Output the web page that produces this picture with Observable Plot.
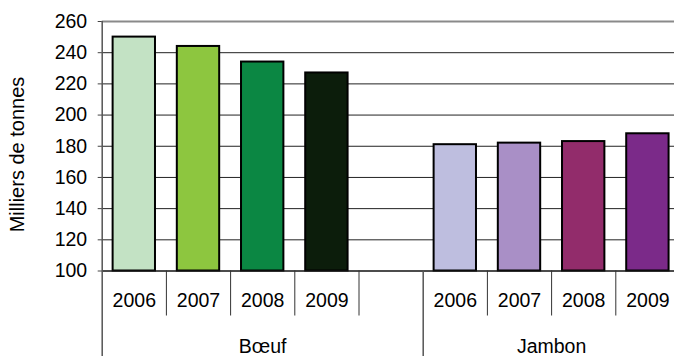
<!DOCTYPE html>
<html>
<head>
<meta charset="utf-8">
<script src="https://cdn.jsdelivr.net/npm/d3@7"></script>
<script src="https://cdn.jsdelivr.net/npm/@observablehq/plot@0.6"></script>
<style>
  html, body { margin: 0; padding: 0; background: #fff; overflow: hidden; }
  #chart svg { display: block; }
</style>
</head>
<body>
<div id="chart"></div>
<script>
// Production (milliers de tonnes) par produit et par année
const groups = ["Bœuf", "Jambon"];
const years = ["2006", "2007", "2008", "2009"];
const boeuf = [250, 244, 234, 227];
const jambon = [181, 182, 183, 188];
const yTicks = [100, 120, 140, 160, 180, 200, 220, 240, 260];
const yTitle = "Milliers de tonnes";

// Fill colours, one per bar (greens for beef, purples for ham)
const palette = [
  "#c3e2c4", "#8dc63f", "#0b8743", "#0c1d0b",
  "#bebedf", "#a98fc6", "#922c6b", "#7b2a89"
];

// Each group takes one slot per year plus an empty spacer slot
const series = [boeuf, jambon];
const slotsPerGroup = years.length + 1;
const rows = groups.flatMap((g, gi) =>
  series[gi].map((v, yi) => ({
    group: g,
    year: years[yi],
    value: v,
    key: g + " " + years[yi],
    slot: gi * slotsPerGroup + yi
  }))
);
const nSlots = (groups.length - 1) * slotsPerGroup + years.length;

// Category axis: short separators between years, long ones between groups
const groupStarts = groups.map((g, gi) => gi * slotsPerGroup).concat([nSlots]);
const shortBounds = d3.range(1, nSlots + 1).filter(b => !groupStarts.includes(b));
const yearAt = new Map(rows.map(d => [d.slot + 0.5, d.year]));
const groupCenters = groups.map((g, gi) => (groupStarts[gi] + groupStarts[gi + 1]) / 2);
const groupAt = new Map(groups.map((g, gi) => [groupCenters[gi], g]));

const font = "'Liberation Sans', Arial, Helvetica, sans-serif";
const W = 674, H = 356;
const mTop = 21, mBottom = 85.5, mLeft = 101.7;
const slotPx = 64.2;

const chart = Plot.plot({
  width: W,
  height: H,
  marginTop: mTop,
  marginBottom: mBottom,
  marginLeft: mLeft,
  marginRight: 0,
  style: { fontFamily: font, fontSize: "19.5px", color: "#000", background: "#fff" },
  x: { domain: [0, nSlots], range: [mLeft, mLeft + nSlots * slotPx] },
  y: { domain: [yTicks[0], yTicks[yTicks.length - 1]] },
  color: { domain: rows.map(d => d.key), range: palette },
  marks: [
    // horizontal gridlines
    Plot.ruleY(yTicks.slice(1, -1), { stroke: "#222", strokeWidth: 1 }),
    Plot.ruleY([yTicks[yTicks.length - 1]], { stroke: "#8a8a8a", strokeWidth: 2 }),
    // bars
    Plot.rect(rows, {
      x1: d => d.slot + 0.17,
      x2: d => d.slot + 0.83,
      y1: yTicks[0],
      y2: "value",
      fill: "key",
      stroke: "#000",
      strokeWidth: 2
    }),
    // axis lines
    Plot.ruleY([yTicks[0]], { stroke: "#111", strokeWidth: 1.3 }),
    Plot.ruleX([0], { stroke: "#555", strokeWidth: 1.5 }),
    Plot.axisY({
      ticks: yTicks, tickSize: 4, tickPadding: 11, tickFormat: d => String(d),
      label: null, stroke: "#444", fill: "#000", fontSize: 19.5
    }),
    // category separators
    Plot.axisX({
      ticks: shortBounds, tickSize: 45, tickFormat: () => "", label: null,
      stroke: "#333", strokeWidth: 1
    }),
    Plot.axisX({
      ticks: groupStarts, tickSize: 86, tickFormat: () => "", label: null,
      stroke: "#555", strokeWidth: 1.5
    }),
    // year labels
    Plot.axisX({
      ticks: [...yearAt.keys()], tickSize: 0, tickPadding: 22.5,
      tickFormat: v => yearAt.get(v), label: null, fill: "#000", fontSize: 19.5
    }),
    // group labels
    Plot.axisX({
      ticks: groupCenters, tickSize: 0, tickPadding: 67.8,
      tickFormat: v => groupAt.get(v), label: null, fill: "#000", fontSize: 19.5
    }),
    // y axis title
    Plot.text([yTitle], {
      text: d => d, frameAnchor: "left", textAnchor: "middle", rotate: -90,
      dx: -84.2, dy: 8.25, fontSize: 20, fill: "#000"
    })
  ]
});

document.getElementById("chart").append(chart);
</script>
</body>
</html>
